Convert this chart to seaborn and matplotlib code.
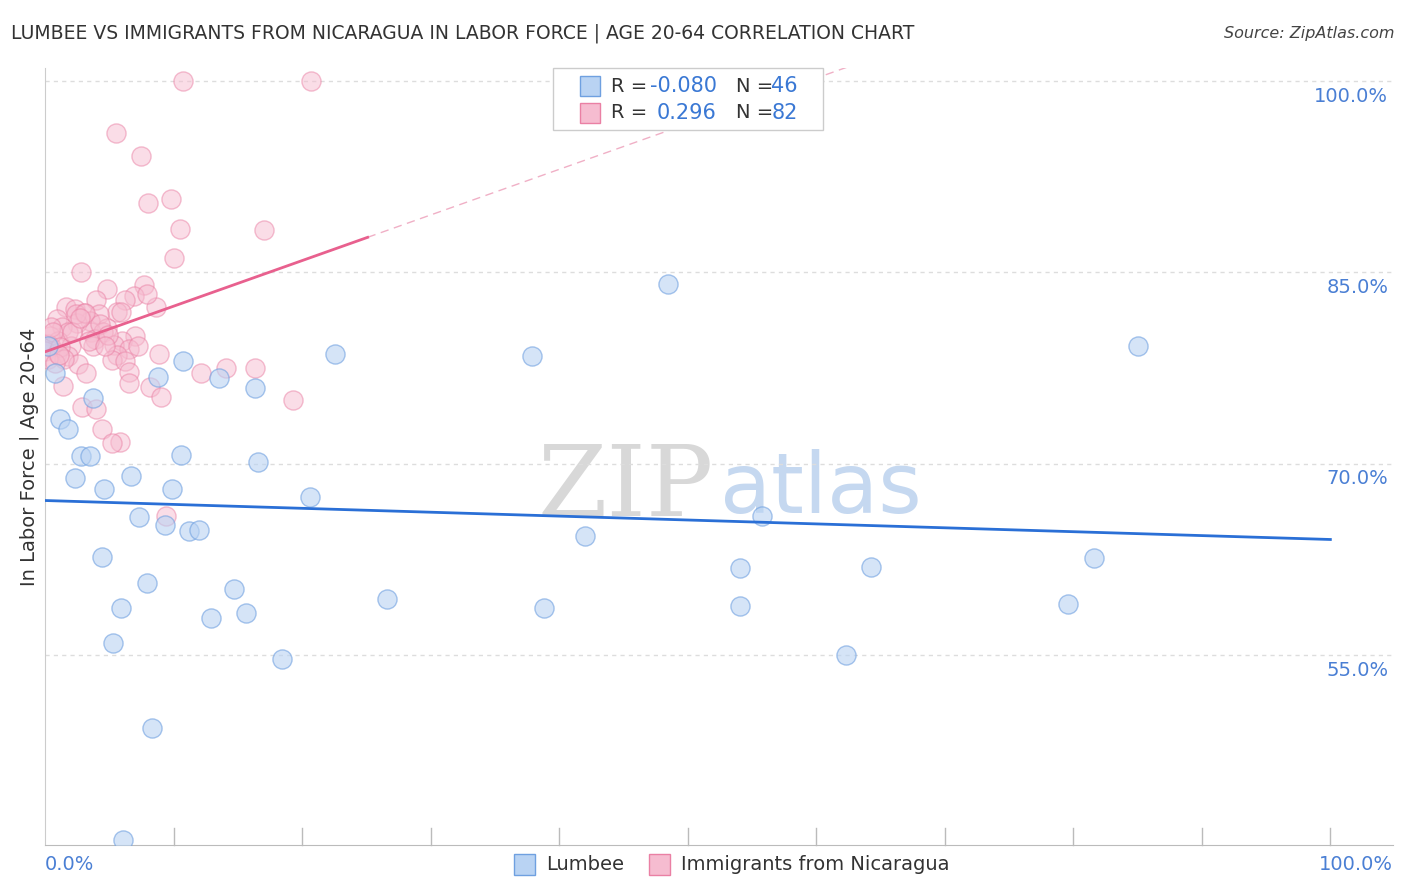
import numpy as np
import pandas as pd
import matplotlib
matplotlib.use("Agg")
import matplotlib.pyplot as plt
import seaborn as sns
from matplotlib.patches import Rectangle

# Lumbee (blue)
lumbee_x = [0.8, 1.2, 1.8, 2.3, 2.8, 3.5, 3.7, 4.6, 4.4, 5.9, 5.3, 6.7, 7.3, 7.9, 8.3, 8.8,
            9.3, 9.9, 10.7, 10.6, 11.2, 12.0, 12.9, 13.5, 14.7, 15.6, 16.3, 16.6, 18.4, 20.6,
            22.6, 26.6, 37.9, 38.8, 42.0, 48.5, 54.1, 54.1, 55.8, 62.3, 64.3, 79.6, 81.6, 85.0,
            6.1, 0.2]
lumbee_y = [77.1, 73.5, 72.7, 68.9, 70.6, 70.6, 75.1, 68.0, 62.7, 58.7, 55.9, 69.0, 65.8, 60.6,
            49.3, 76.8, 65.2, 68.0, 78.0, 70.7, 64.7, 64.8, 57.9, 76.7, 60.2, 58.3, 75.9, 70.1,
            54.7, 67.4, 78.6, 59.4, 78.4, 58.7, 64.3, 84.1, 61.8, 58.8, 65.9, 55.0, 61.9, 59.0,
            62.6, 79.2, 40.5, 79.2]

# Immigrants from Nicaragua (pink)
nic_x = [10.7, 20.7, 5.5, 7.5, 9.8, 8.0, 10.5, 17.0, 10.0, 2.8, 7.7, 4.8, 6.9, 4.0, 6.2, 8.6,
         1.6, 2.3, 5.6, 3.0, 4.2, 0.9, 3.5, 2.5, 1.3, 4.8, 3.6, 4.5, 7.0, 1.8, 0.4, 3.9, 6.0,
         1.0, 0.2, 5.4, 3.7, 2.0, 0.5, 6.5, 0.0, 0.9, 5.6, 8.9, 1.8, 5.2, 6.2, 2.6, 14.1, 16.3,
         6.5, 12.1, 3.2, 1.4, 6.5, 8.2, 9.0, 19.3, 2.9, 4.0, 4.4, 5.8, 5.2, 9.4,
         0.5, 0.6, 1.2, 1.5, 2.4, 3.1, 4.3, 4.9, 7.2, 0.2, 0.8, 2.1, 3.4, 4.7, 5.9, 7.9, 1.1, 2.7]
nic_y = [100.0, 100.0, 95.9, 94.1, 90.7, 90.4, 88.4, 88.3, 86.1, 85.0, 84.0, 83.7, 83.1, 82.8,
         82.8, 82.3, 82.3, 82.1, 81.9, 81.8, 81.7, 81.3, 81.2, 81.0, 80.7, 80.6, 80.3, 80.3,
         80.0, 80.3, 80.0, 79.8, 79.6, 79.6, 79.4, 79.3, 79.2, 79.2, 79.1, 79.0, 78.8, 78.7,
         78.5, 78.6, 78.4, 78.1, 78.0, 77.8, 77.5, 77.5, 77.2, 77.1, 77.1, 76.1, 76.3, 76.0,
         75.2, 75.0, 74.4, 74.3, 72.7, 71.7, 71.6, 65.9,
         80.7, 80.3, 79.1, 78.2, 81.7, 81.8, 80.9, 80.1, 79.2, 78.2, 77.9, 80.3, 79.6, 79.2,
         81.9, 83.3, 78.5, 81.4]

blue = "#6fa0e0"
blue_face = "#b9d3f3"
pink = "#ea80a4"
pink_face = "#f6bcd0"

fig = plt.figure(figsize=(14.06, 8.92), dpi=100)
ax = fig.add_axes([0.032, 0.0527, 0.959, 0.871])

df_l = pd.DataFrame({"x": lumbee_x, "y": lumbee_y})
df_n = pd.DataFrame({"x": nic_x, "y": nic_y})
sns.scatterplot(data=df_n, x="x", y="y", ax=ax, s=190, color=pink_face, edgecolor=pink,
                linewidth=1, alpha=0.5, zorder=3)
sns.scatterplot(data=df_l, x="x", y="y", ax=ax, s=190, color=blue_face, edgecolor=blue,
                linewidth=1, alpha=0.6, zorder=3)

# trend lines
bl = np.polyfit(lumbee_x, lumbee_y, 1)
xs = np.array([0, 100])
ax.plot(xs, np.polyval(bl, xs), color="#2a6fd6", lw=2, zorder=4)
pl = np.polyfit(nic_x, nic_y, 1)
xs1 = np.array([0, 25.1])
ax.plot(xs1, np.polyval(pl, xs1), color="#e8608e", lw=2, zorder=4)
xs2 = np.array([25.1, 100])
ax.plot(xs2, np.polyval(pl, xs2), color="#f0b0c6", lw=1, ls=(0, (6, 4)), zorder=2)

ax.set_xlim(0, 104.9)
ax.set_ylim(40.1, 101)
for v in [55, 70, 85, 100]:
    ax.axhline(v, color="#dddddd", lw=1, ls=(0, (3, 3)), zorder=1)
    ax.text(104.5, v - 1.2, f"{v:.1f}%", color="#4a7fd4", fontsize=14, ha="right", va="center")
ax.set_yticks([])
ax.set_xticks([])
for v in range(10, 101, 10):
    ax.plot([v, v], [40.1, 41.4], color="#bbbbbb", lw=1, clip_on=False)
for s in ["top", "right"]:
    ax.spines[s].set_visible(False)
ax.spines["left"].set_color("#cccccc")
ax.spines["bottom"].set_color("#bbbbbb")
ax.set_xlabel("")
ax.set_ylabel("In Labor Force | Age 20-64", fontsize=14, color="#333333")

# watermark
ax.text(52, 68, "ZIP", fontsize=72, color="#d8d8d8", ha="right", va="center",
        family="DejaVu Serif", zorder=0)
ax.text(52.5, 68, "atlas", fontsize=60, color="#c5d8f0", ha="left", va="center", zorder=0)

fig.text(0.008, 0.963, "LUMBEE VS IMMIGRANTS FROM NICARAGUA IN LABOR FORCE | AGE 20-64 CORRELATION CHART",
         fontsize=13.5, color="#333333", va="center")
fig.text(0.992, 0.963, "Source: ZipAtlas.com", fontsize=11.5, color="#444444", ha="right",
         va="center", style="italic")

# stats legend box
fig.patches.append(Rectangle((553 / 1406, 1 - 130 / 892), 270 / 1406, 62 / 892,
                             transform=fig.transFigure, fc="white", ec="#cccccc", lw=1))
for i, (fc, ec, r, n) in enumerate([(blue_face, blue, "-0.080", "46"), (pink_face, pink, "0.296", "82")]):
    yy = 1 - (86 + 27 * i) / 892
    fig.patches.append(Rectangle((580 / 1406, yy - 0.011), 20 / 1406, 0.022,
                                 transform=fig.transFigure, fc=fc, ec=ec, lw=1))
    fig.text(611 / 1406, yy, "R =", fontsize=14, color="#333333", va="center")
    fig.text(717 / 1406, yy, r, fontsize=15, color="#3a78d4", va="center", ha="right")
    fig.text(736 / 1406, yy, "N =", fontsize=14, color="#333333", va="center")
    fig.text(798 / 1406, yy, n, fontsize=15, color="#3a78d4", va="center", ha="right")

# x labels
fig.text(45 / 1406, 1 - 864 / 892, "0.0%", fontsize=14, color="#4a7fd4", va="center")
fig.text(1393 / 1406, 1 - 864 / 892, "100.0%", fontsize=14, color="#4a7fd4", va="center", ha="right")

# bottom legend
for xx, fc, ec, lab in [(514, blue_face, blue, "Lumbee"), (649, pink_face, pink, "Immigrants from Nicaragua")]:
    fig.patches.append(Rectangle((xx / 1406, 1 - 875 / 892), 21 / 1406, 0.024,
                                 transform=fig.transFigure, fc=fc, ec=ec, lw=1))
    fig.text((xx + 32) / 1406, 1 - 864 / 892, lab, fontsize=14, color="#333333", va="center")

fig.savefig("out.png", dpi=100)
